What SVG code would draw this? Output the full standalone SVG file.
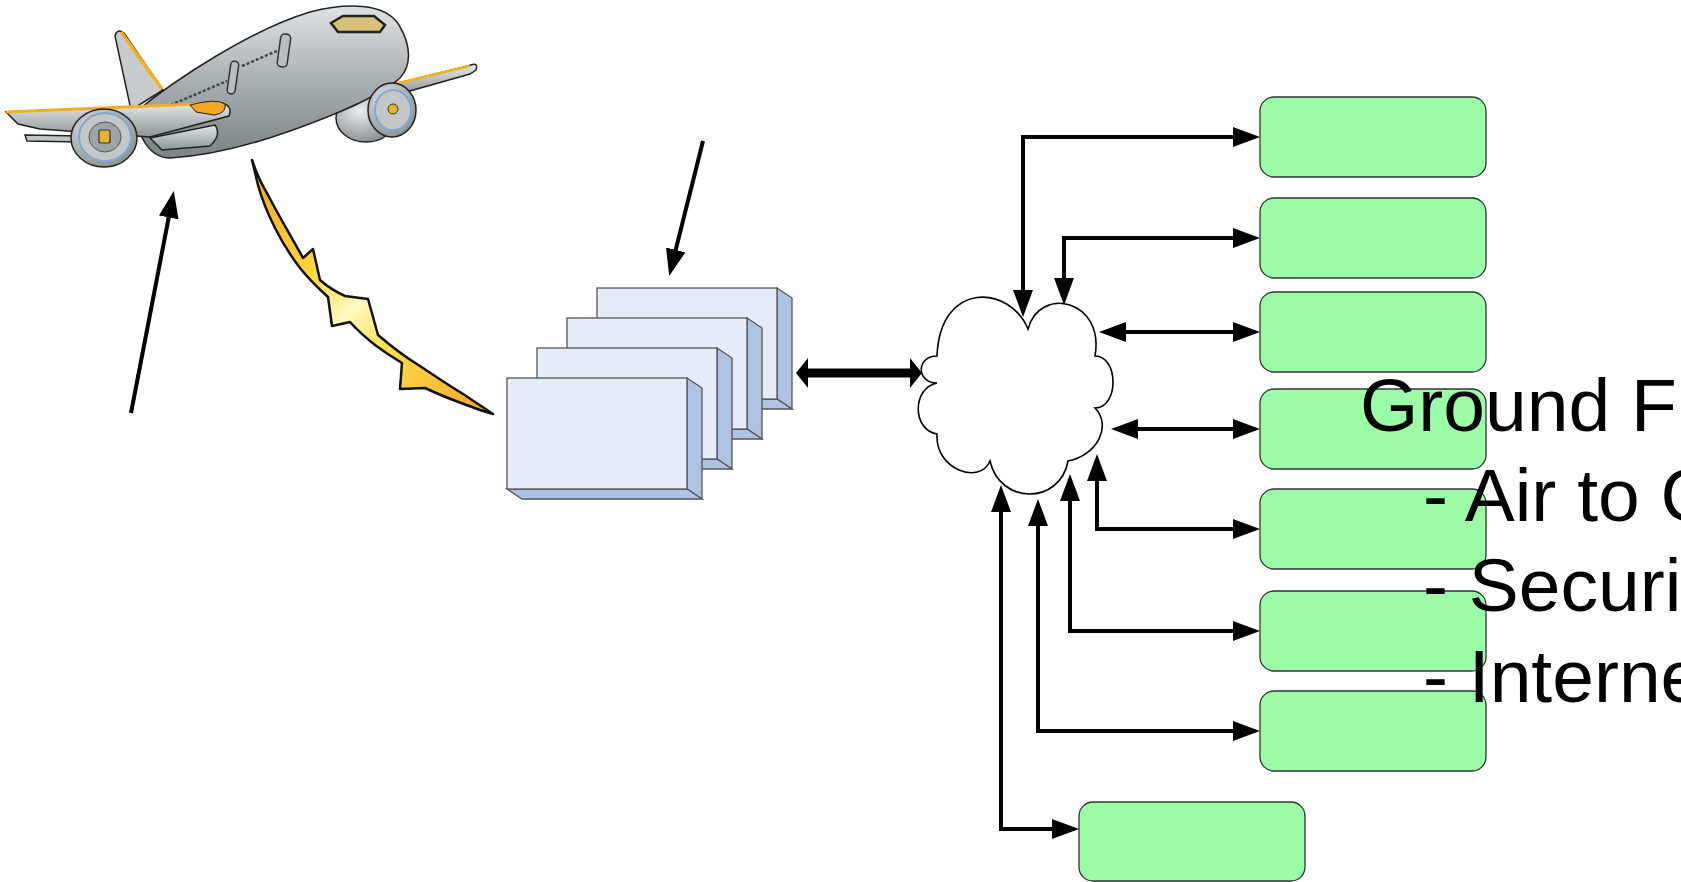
<svg xmlns="http://www.w3.org/2000/svg" width="1681" height="882" viewBox="0 0 1681 882">
<defs>
<style>
.box{fill:#9BFDA7;stroke:#333;stroke-width:1.3}
.face{fill:#E6ECF7;stroke:#555;stroke-width:1.3}
.side{fill:#AEC3E3;stroke:#555;stroke-width:1.3}
.conn{fill:none;stroke:#000;stroke-width:4;stroke-linejoin:miter}
.thick{fill:none;stroke:#000;stroke-width:9}
.lbl{font-family:"Liberation Sans",Arial,sans-serif;font-size:75px;fill:#000}
.ink{stroke:#222;stroke-width:1.5}
</style>
<marker id="ah" markerUnits="userSpaceOnUse" viewBox="0 0 27 20" markerWidth="27" markerHeight="20" refX="1" refY="10" orient="auto-start-reverse">
<path d="M0,0 L27,10 L0,20 Z" fill="#000"/>
</marker>
<marker id="ahT" markerUnits="userSpaceOnUse" viewBox="0 0 12 30" markerWidth="12" markerHeight="30" refX="1" refY="15" orient="auto-start-reverse">
<path d="M0,0 L12,15 L0,30 Z" fill="#000"/>
</marker>
<linearGradient id="gFus" x1="0" y1="0" x2="0" y2="1">
<stop offset="0" stop-color="#dfe2e2"/><stop offset="0.5" stop-color="#a9aeb0"/><stop offset="1" stop-color="#7c8385"/>
</linearGradient>
<linearGradient id="gWing" x1="0" y1="0" x2="0" y2="1">
<stop offset="0" stop-color="#e4e7e8"/><stop offset="1" stop-color="#8d9496"/>
</linearGradient>
<radialGradient id="gEng" cx="0.4" cy="0.35" r="0.7">
<stop offset="0" stop-color="#eceeee"/><stop offset="1" stop-color="#868c8e"/>
</radialGradient>
<linearGradient id="gBolt" x1="0" y1="0" x2="1" y2="1">
<stop offset="0" stop-color="#F4A226"/><stop offset="0.35" stop-color="#FFD83A"/><stop offset="0.5" stop-color="#FFF8C4"/><stop offset="0.65" stop-color="#FFE14A"/><stop offset="1" stop-color="#F4A226"/>
</linearGradient>
</defs>

<g id="airplane">
  <path d="M386,86 L468,66 Q479,61 476,70 L470,74 L392,96 Z" fill="url(#gWing)" class="ink"/>
  <path d="M386,86 L470,66" stroke="#F2B01E" stroke-width="2.5" fill="none"/>
  <path d="M131,110 L115,36 Q117,28 124,33 L163,90 Z" fill="#c8cbcc" class="ink"/>
  <path d="M121,32 L162,89" stroke="#F2B01E" stroke-width="3.5" fill="none"/>
  <ellipse cx="366" cy="118" rx="30" ry="24" fill="url(#gEng)" class="ink"/>
  <path d="M138,110 C175,80 250,30 310,12 C345,3 385,2 399,25 C411,45 412,65 400,78 C380,96 340,113 290,131 C245,147 205,156 170,158 C150,158 135,135 138,110 Z" fill="url(#gFus)" class="ink"/>
  <path d="M331,23 L343,16 L374,16 L385,25 L380,32 L338,32 Z" fill="#d8c27a" stroke="#222" stroke-width="2.5"/>
  <rect x="279" y="34" width="10" height="33" rx="4" fill="#b8bdbe" stroke="#333" stroke-width="1.5" transform="rotate(8 284 50)"/>
  <rect x="229" y="61" width="8" height="33" rx="4" fill="#b8bdbe" stroke="#333" stroke-width="1.5" transform="rotate(8 233 77)"/>
  <path d="M166,107 L227,81 M242,66 L277,51" stroke="#444" stroke-width="2.5" stroke-dasharray="3 2" fill="none"/>
  <path d="M6,112 L222,103 Q233,106 229,116 L150,137 L40,129 L18,124 Z" fill="url(#gWing)" class="ink"/>
  <path d="M6,112 L222,103" stroke="#F2B01E" stroke-width="3" fill="none"/>
  <path d="M190,105 Q216,98 225,104 Q227,113 214,115 L196,112 Z" fill="#F5A623" stroke="#222" stroke-width="1"/>
  <path d="M25,135 L80,136 L80,142 L27,141 Z" fill="#c2c6c7" class="ink"/>
  <path d="M150,138 L215,125 Q222,135 210,146 L162,150 Z" fill="url(#gWing)" class="ink"/>
  <ellipse cx="104" cy="138" rx="33" ry="29" fill="url(#gEng)" class="ink"/>
  <ellipse cx="105" cy="137" rx="26" ry="24" fill="#c3c7c8" stroke="#7FA8D2" stroke-width="2"/>
  <ellipse cx="105" cy="137" rx="16" ry="15" fill="#9ea4a6" stroke="#555" stroke-width="1"/>
  <rect x="99" y="130" width="11" height="13" rx="2" fill="#E3B52E" stroke="#333" stroke-width="1.2"/>
  <ellipse cx="392" cy="110" rx="24" ry="27" fill="url(#gEng)" class="ink"/>
  <ellipse cx="393" cy="110" rx="18" ry="20" fill="#c3c7c8" stroke="#7FA8D2" stroke-width="2"/>
  <circle cx="393" cy="109" r="5" fill="#E3B52E" stroke="#333" stroke-width="1"/>
</g>

<g id="radio-link">
  <path d="M252,160 C256,172 262,185 268,195 C280,218 292,238 303,258 L313,249 L320,280 C328,287 336,292 345,296 L368,299 L378,335 C392,347 405,357 420,366 C435,376 448,385 460,392 C472,400 483,407 493,414 C486,412 479,410 472,407 C455,401 440,395 425,388 L400,389 L402,363 C392,357 383,351 375,345 C365,337 357,330 350,322 L332,326 L328,297 C318,288 308,278 300,268 C290,255 282,242 275,228 C268,214 262,200 258,185 Z" fill="url(#gBolt)" stroke="#111" stroke-width="2.5" stroke-linejoin="round"/>
</g>

<g id="gateways">
  <g id="gw1"><path class="side" d="M777,288 L792,298 L792,409 L777,399 Z"/><path class="side" d="M597,399 L777,399 L792,409 L612,409 Z"/><rect class="face" x="597" y="288" width="180" height="111"/></g>
  <g id="gw2"><path class="side" d="M747,318 L762,328 L762,439 L747,429 Z"/><path class="side" d="M567,429 L747,429 L762,439 L582,439 Z"/><rect class="face" x="567" y="318" width="180" height="111"/></g>
  <g id="gw3"><path class="side" d="M717,348 L732,358 L732,469 L717,459 Z"/><path class="side" d="M537,459 L717,459 L732,469 L552,469 Z"/><rect class="face" x="537" y="348" width="180" height="111"/></g>
  <g id="gw4"><path class="side" d="M687,378 L702,388 L702,499 L687,489 Z"/><path class="side" d="M507,489 L687,489 L702,499 L522,499 Z"/><rect class="face" x="507" y="378" width="180" height="111"/></g>
</g>

<g id="network">
  <path d="M937,356 C916,356 916,383 937,383 C912,388 912,430 937,434 C935,470 980,485 990,461 C1000,505 1060,505 1068,461 C1098,455 1112,425 1095,408 C1119,408 1119,356 1095,356 C1105,300 1040,285 1028,329 C1010,285 940,280 937,356 Z" fill="#fff" stroke="#000" stroke-width="1.6"/>
</g>

<g id="ground-1"><rect class="box" x="1260" y="97" width="226" height="80" rx="14"/></g>
<g id="ground-2"><rect class="box" x="1260" y="198" width="226" height="80" rx="14"/></g>
<g id="ground-3"><rect class="box" x="1260" y="292" width="226" height="80" rx="14"/></g>
<g id="ground-4"><rect class="box" x="1260" y="389" width="226" height="80" rx="14"/></g>
<g id="ground-5"><rect class="box" x="1260" y="489" width="226" height="80" rx="14"/></g>
<g id="ground-6"><rect class="box" x="1260" y="591" width="226" height="80" rx="14"/></g>
<g id="ground-7"><rect class="box" x="1260" y="691" width="226" height="80" rx="14"/></g>
<g id="ground-8"><rect class="box" x="1079" y="802" width="226" height="79" rx="14"/></g>

<g id="connectors">
  <path class="conn" d="M131,413 L168.9,216.5" marker-end="url(#ah)"/>
  <path class="conn" d="M703,141 L675.5,250.8" marker-end="url(#ah)"/>
  <path class="thick" d="M807,373 L911,373" marker-start="url(#ahT)" marker-end="url(#ahT)"/>
  <path class="conn" d="M1234,137 L1023,137 L1023,291" marker-start="url(#ah)" marker-end="url(#ah)"/>
  <path class="conn" d="M1234,238 L1064,238 L1064,279" marker-start="url(#ah)" marker-end="url(#ah)"/>
  <path class="conn" d="M1125,332 L1234,332" marker-start="url(#ah)" marker-end="url(#ah)"/>
  <path class="conn" d="M1137,429 L1234,429" marker-start="url(#ah)" marker-end="url(#ah)"/>
  <path class="conn" d="M1097,480 L1097,529 L1234,529" marker-start="url(#ah)" marker-end="url(#ah)"/>
  <path class="conn" d="M1070,500 L1070,631 L1234,631" marker-start="url(#ah)" marker-end="url(#ah)"/>
  <path class="conn" d="M1038,525 L1038,731 L1234,731" marker-start="url(#ah)" marker-end="url(#ah)"/>
  <path class="conn" d="M1001,511 L1001,829 L1053,829" marker-start="url(#ah)" marker-end="url(#ah)"/>
</g>

<g id="notes">
  <text class="lbl" x="1360" y="431">Ground F</text>
  <text class="lbl" x="1423" y="521">- Air to G</text>
  <text class="lbl" x="1423" y="611">- Securi</text>
  <text class="lbl" x="1423" y="702">- Interne</text>
</g>
</svg>
